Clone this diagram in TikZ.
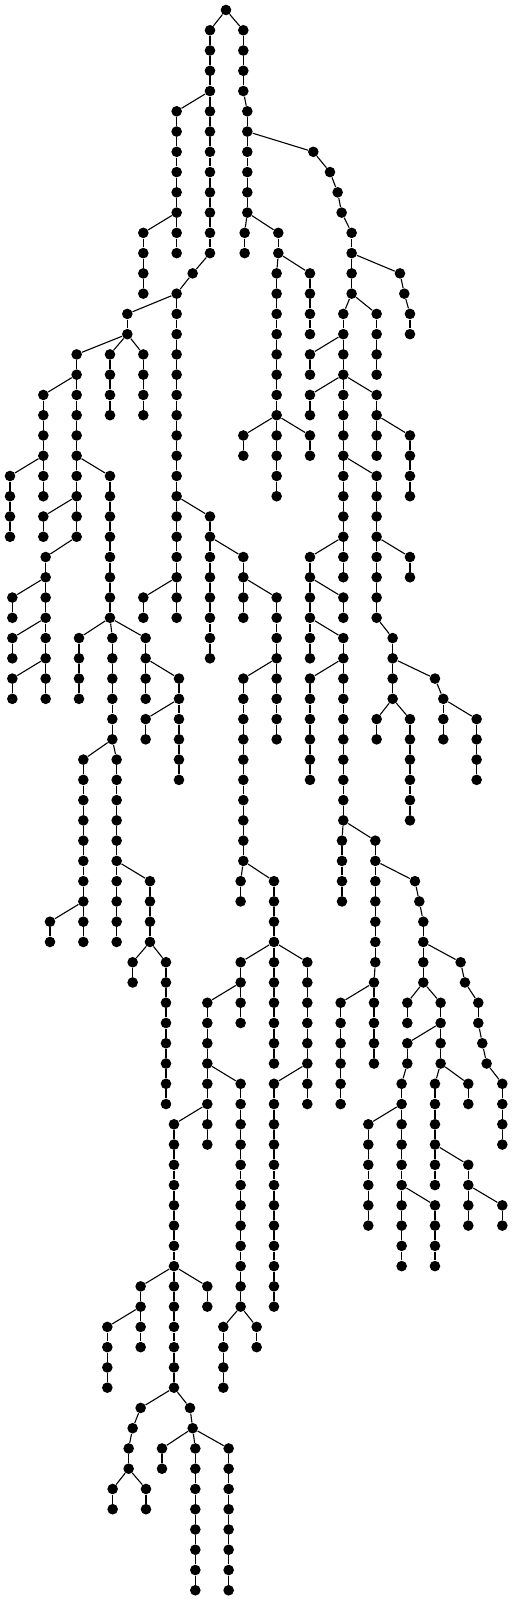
\documentclass[tikz,border=0pt]{standalone}
\tikzset{
  dot/.style={circle,fill=black,draw=none,inner sep=0pt,minimum size=5.3bp},
  edge/.style={line width=0.55bp,black}
}
\newcommand\kid[4]{\node[dot] (n#1-#2) at (#1,#2) {};\draw[edge] (n#3-#4) -- (n#1-#2);}
\newcommand\run[3]{\pgfmathtruncatemacro\runstart{#2+1}%
  \foreach \l [remember=\l as \p (initially #2)] in {\runstart,...,#3}{%
    \node[dot] (n#1-\l) at (#1,\l) {};\draw[edge] (n#1-\p) -- (n#1-\l);}}
\begin{document}
\begin{tikzpicture}[x=0.166667bp,y=-10.13bp]
\useasboundingbox (0,-0.4936) rectangle (1536,78.53);
\node[dot] (n678-0) at (678,0) {};
% left main
\kid{630}{1}{678}{0}\run{630}{1}{12}
\kid{730}{1}{678}{0}\run{730}{1}{4}
\kid{530}{5}{630}{4}\run{530}{5}{12}
\kid{430}{11}{530}{10}\run{430}{11}{14}
\kid{578}{13}{630}{12}
\kid{530}{14}{578}{13}\run{530}{14}{30}
% right of root
\kid{742}{5}{730}{4}\run{742}{5}{10}
\kid{940}{7}{742}{6}\kid{990}{8}{940}{7}\kid{1013}{9}{990}{8}\kid{1025}{10}{1013}{9}
\kid{1055}{11}{1025}{10}\run{1055}{11}{14}
\kid{734}{11}{742}{10}\run{734}{11}{12}
\kid{835}{11}{742}{10}\run{835}{11}{12}
\kid{830}{13}{835}{12}\run{830}{13}{24}
\kid{930}{13}{835}{12}\run{930}{13}{16}
\kid{730}{21}{830}{20}\run{730}{21}{22}
\kid{930}{21}{830}{20}\run{930}{21}{22}
\kid{1200}{13}{1055}{12}\kid{1213}{14}{1200}{13}\kid{1230}{15}{1213}{14}\run{1230}{15}{16}
\kid{1030}{15}{1055}{14}\run{1030}{15}{28}
\kid{1130}{15}{1055}{14}\run{1130}{15}{18}
\kid{930}{17}{1030}{16}\run{930}{17}{18}
\kid{930}{19}{1030}{18}\run{930}{19}{20}
\kid{1130}{19}{1030}{18}\run{1130}{19}{22}
\kid{1230}{21}{1130}{20}\run{1230}{21}{24}
\kid{1130}{23}{1030}{22}\run{1130}{23}{30}
\kid{1230}{27}{1130}{26}\run{1230}{27}{28}
\kid{1178}{31}{1130}{30}\run{1178}{31}{34}
\kid{1305}{33}{1178}{32}\kid{1330}{34}{1305}{33}\run{1330}{34}{36}
\kid{1430}{35}{1330}{34}\run{1430}{35}{38}
\kid{1130}{35}{1178}{34}\run{1130}{35}{36}
\kid{1230}{35}{1178}{34}\run{1230}{35}{40}
\kid{930}{27}{1030}{26}\run{930}{27}{32}
\kid{1030}{29}{930}{28}\run{1030}{29}{30}
\kid{1030}{31}{930}{30}\run{1030}{31}{40}
\kid{930}{33}{1030}{32}\run{930}{33}{38}
\kid{1026}{41}{1030}{40}\run{1026}{41}{44}
\kid{1126}{41}{1030}{40}\run{1126}{41}{47}
\kid{1122}{48}{1126}{47}\run{1122}{48}{52}
\kid{1022}{49}{1122}{48}\run{1022}{49}{54}
\kid{1245}{43}{1126}{42}\kid{1258}{44}{1245}{43}\kid{1270}{45}{1258}{44}\run{1270}{45}{48}
\kid{1382}{47}{1270}{46}\kid{1395}{48}{1382}{47}\kid{1435}{49}{1395}{48}\run{1435}{49}{50}
\kid{1447}{51}{1435}{50}\kid{1460}{52}{1447}{51}\kid{1507}{53}{1460}{52}\run{1507}{53}{56}
\kid{1222}{49}{1270}{48}\run{1222}{49}{50}
\kid{1322}{49}{1270}{48}\run{1322}{49}{52}
\kid{1222}{51}{1322}{50}\run{1222}{51}{52}
\kid{1205}{53}{1222}{52}\run{1205}{53}{62}
\kid{1105}{55}{1205}{54}\run{1105}{55}{60}
\kid{1305}{59}{1205}{58}\run{1305}{59}{62}
\kid{1305}{53}{1322}{52}\run{1305}{53}{58}
\kid{1405}{53}{1322}{52}\run{1405}{53}{54}
\kid{1405}{57}{1305}{56}\run{1405}{57}{60}
\kid{1507}{59}{1405}{58}\run{1507}{59}{60}
% far left
\kid{382}{15}{530}{14}\run{382}{15}{16}
\kid{230}{17}{382}{16}\run{230}{17}{26}
\kid{330}{17}{382}{16}\run{330}{17}{20}
\kid{430}{17}{382}{16}\run{430}{17}{20}
\kid{130}{19}{230}{18}\run{130}{19}{24}
\kid{30}{23}{130}{22}\run{30}{23}{26}
\kid{330}{23}{230}{22}\run{330}{23}{30}
\kid{237}{31}{330}{30}\run{237}{31}{34}
\kid{337}{31}{330}{30}\run{337}{31}{36}
\kid{437}{31}{330}{30}\run{437}{31}{34}
\kid{537}{33}{437}{32}\run{537}{33}{38}
\kid{437}{35}{537}{34}\run{437}{35}{36}
\kid{250}{37}{337}{36}\run{250}{37}{46}
\kid{150}{45}{250}{44}\run{150}{45}{46}
\kid{350}{37}{337}{36}\run{350}{37}{46}
\kid{450}{43}{350}{42}\run{450}{43}{46}
\kid{398}{47}{450}{46}\run{398}{47}{48}
\kid{498}{47}{450}{46}\run{498}{47}{54}
\kid{130}{25}{230}{24}\run{130}{25}{26}
\kid{137}{27}{230}{26}\run{137}{27}{34}
\kid{37}{29}{137}{28}\run{37}{29}{30}
\kid{37}{31}{137}{30}\run{37}{31}{32}
\kid{37}{33}{137}{32}\run{37}{33}{34}
% middle
\kid{630}{25}{530}{24}\run{630}{25}{32}
\kid{430}{29}{530}{28}\run{430}{29}{30}
\kid{730}{27}{630}{26}\run{730}{27}{30}
\kid{830}{29}{730}{28}\run{830}{29}{36}
\kid{730}{33}{830}{32}\run{730}{33}{42}
\kid{722}{43}{730}{42}\run{722}{43}{44}
\kid{822}{43}{730}{42}\run{822}{43}{52}
\kid{722}{47}{822}{46}\run{722}{47}{50}
\kid{922}{47}{822}{46}\run{922}{47}{54}
\kid{822}{53}{922}{52}\run{822}{53}{64}
\kid{622}{49}{722}{48}\run{622}{49}{56}
\kid{722}{53}{622}{52}\run{722}{53}{64}
\kid{670}{65}{722}{64}\run{670}{65}{68}
\kid{770}{65}{722}{64}\run{770}{65}{66}
\kid{522}{55}{622}{54}\run{522}{55}{68}
\kid{422}{63}{522}{62}\run{422}{63}{66}
\kid{622}{63}{522}{62}\run{622}{63}{64}
\kid{322}{65}{422}{64}\run{322}{65}{68}
\kid{422}{69}{522}{68}\kid{398}{70}{422}{69}\kid{386}{71}{398}{70}\run{386}{71}{72}
\kid{338}{73}{386}{72}\run{338}{73}{74}
\kid{438}{73}{386}{72}\run{438}{73}{74}
\kid{570}{69}{522}{68}\kid{578}{70}{570}{69}
\kid{486}{71}{578}{70}\run{486}{71}{72}
\kid{586}{71}{578}{70}\run{586}{71}{78}
\kid{686}{71}{578}{70}\run{686}{71}{78}
\end{tikzpicture}
\end{document}
